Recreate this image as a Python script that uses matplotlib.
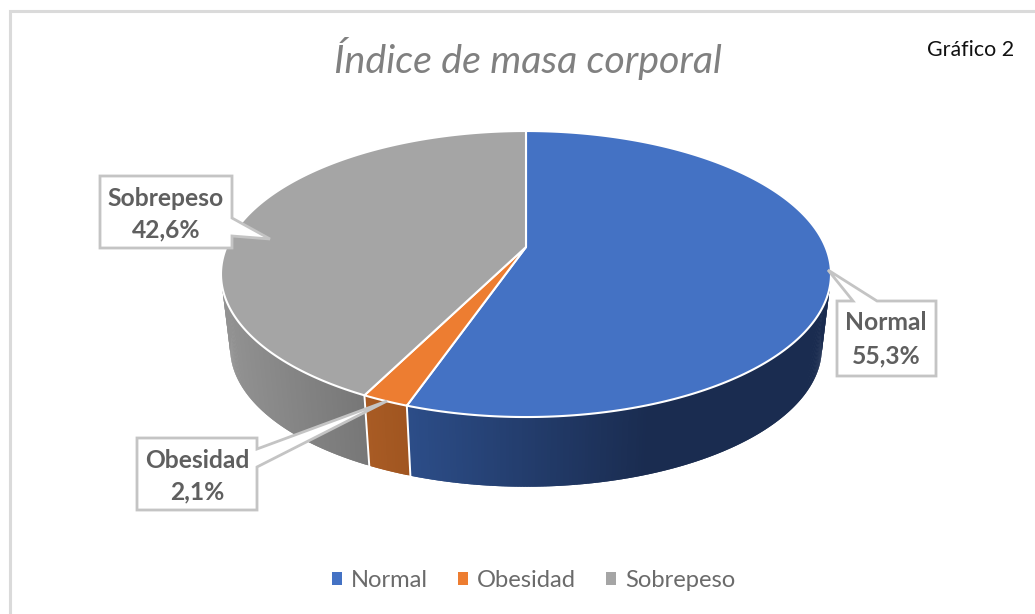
import numpy as np
import matplotlib
matplotlib.use("Agg")
import matplotlib.pyplot as plt
from matplotlib.patches import Polygon, Patch
from matplotlib.lines import Line2D
from matplotlib.colors import to_rgb

# ---- data ----
categories = ["Normal", "Obesidad", "Sobrepeso"]
values = [55.3, 2.1, 42.6]
value_labels = ["55,3%", "2,1%", "42,6%"]
title = "Índice de masa corporal"
note = "Gráfico 2"

# ---- styles ----
top_colors = ["#4472C4", "#ED7D31", "#A5A5A5"]
side_light = ["#2C4D88", "#A85B24", "#929292"]
side_dark = ["#1A2C50", "#A05520", "#777777"]
side_xrange = [(410, 650), (368, 410), (225, 365)]
plt.rcParams["font.family"] = ["Lato", "DejaVu Sans"]

fig = plt.figure(figsize=(10.35, 6.14), dpi=100, facecolor="white")
ax = fig.add_axes([0, 0, 1, 1])
ax.set_xlim(0, 1035)
ax.set_ylim(614, 0)
ax.axis("off")

# perspective projection of the unit disc
APEX = (526.0, 247.0)
K, AX, BY = 0.189, 299.5, 137.9
CY_TOP, CY_BOT, S_BOT = 274.0, 348.0, 0.97


def top_xy(theta):
    """theta in degrees, clockwise from 12 o'clock"""
    t = np.radians(theta)
    X, Y = np.sin(t), np.cos(t)
    w = 1 + K * Y
    return APEX[0] + AX * X / w, APEX[1] - BY * Y / w


def bot_xy(theta):
    x, y = top_xy(theta)
    return APEX[0] + S_BOT * (x - APEX[0]), CY_BOT + S_BOT * (y - CY_TOP)


edges = np.concatenate([[0], np.cumsum(values)]) / np.sum(values) * 360.0
SIDE_LO, SIDE_HI = 95.0, 265.0

# side walls: overlapping bands painted in sequence, so no seams show
for i in range(len(values)):
    a = max(edges[i], SIDE_LO)
    b = min(edges[i + 1], SIDE_HI)
    n = max(int((b - a) * 2), 2)
    th = np.linspace(a, b, n + 1)
    c0, c1 = np.array(to_rgb(side_light[i])), np.array(to_rgb(side_dark[i]))
    x0, x1 = side_xrange[i]
    for j in range(n):
        band = np.linspace(th[j], th[min(j + 2, n)], 6)
        xt, yt = top_xy(band)
        xb, yb = bot_xy(band)
        f = np.clip((xt[0] - x0) / (x1 - x0), 0, 1)
        col = c0 + (c1 - c0) * f
        pts = np.column_stack([np.r_[xt, xb[::-1]], np.r_[yt, yb[::-1]]])
        ax.add_patch(Polygon(pts, closed=True, facecolor=col, edgecolor="none",
                             linewidth=0, zorder=2))

# white separators on the wall
for e in edges[1:-1]:
    xt, yt = top_xy(e)
    xb, yb = bot_xy(e)
    ax.add_line(Line2D([xt, xb], [yt, yb], color="white", lw=1.4, zorder=3))

# top face
for i in range(len(values)):
    th = np.linspace(edges[i], edges[i + 1], 240)
    xs, ys = top_xy(th)
    pts = np.column_stack([np.r_[APEX[0], xs], np.r_[APEX[1], ys]])
    ax.add_patch(Polygon(pts, closed=True, facecolor=top_colors[i],
                         edgecolor="white", linewidth=1.5, zorder=4,
                         joinstyle="round"))


# frame
FRAME = "#DADADA"
ax.add_line(Line2D([9.5, 9.5, 1035], [614, 10.5, 10.5], color=FRAME, lw=2.2,
                   zorder=1, solid_joinstyle="miter"))

# title and note
ax.text(527.5, 58, title, ha="center", va="center", fontsize=28.4, style="italic",
        color="#808080", fontweight="normal", zorder=6)
ax.text(970.5, 50, note, ha="center", va="center", fontsize=15.4, color="#111111", zorder=6)

# callouts: outline vertices in pixels of the reference
callouts = [
    # Normal
    [(837, 301), (853, 301), (828, 270), (877, 301), (936, 301), (936, 376), (837, 376)],
    # Obesidad
    [(137, 438), (257, 438), (257, 449), (387, 401), (257, 467), (257, 510), (137, 510)],
    # Sobrepeso
    [(100, 176), (232, 176), (232, 218), (270, 239), (232, 236), (232, 248), (100, 248)],
]
label_pos = [((886, 323), (886, 356)), ((197, 460), (197, 492)), ((166, 198), (166, 230))]
for i, outline in enumerate(callouts):
    ax.add_patch(Polygon(outline, closed=True, facecolor="white", edgecolor="#C4C4C4",
                         linewidth=2.0, zorder=7, joinstyle="miter"))
    for txt, (x, y) in zip((categories[i], value_labels[i]), label_pos[i]):
        ax.text(x, y, txt, ha="center", va="center", fontsize=17.7, fontweight="bold",
                color="#5F5F5F", zorder=8)

# legend
handles = [Patch(facecolor=c, edgecolor="none", label=l) for c, l in zip(top_colors, categories)]
ax.legend(handles=handles, loc="center", bbox_to_anchor=(533.5, 580.5),
          bbox_transform=ax.transData, ncol=3, frameon=False, fontsize=17.1,
          labelcolor="#6B6B6B", handlelength=0.42, handleheight=0.42,
          handletextpad=0.38, columnspacing=1.26, borderpad=0, borderaxespad=0)

fig.savefig("out.png", dpi=100, facecolor="white")
